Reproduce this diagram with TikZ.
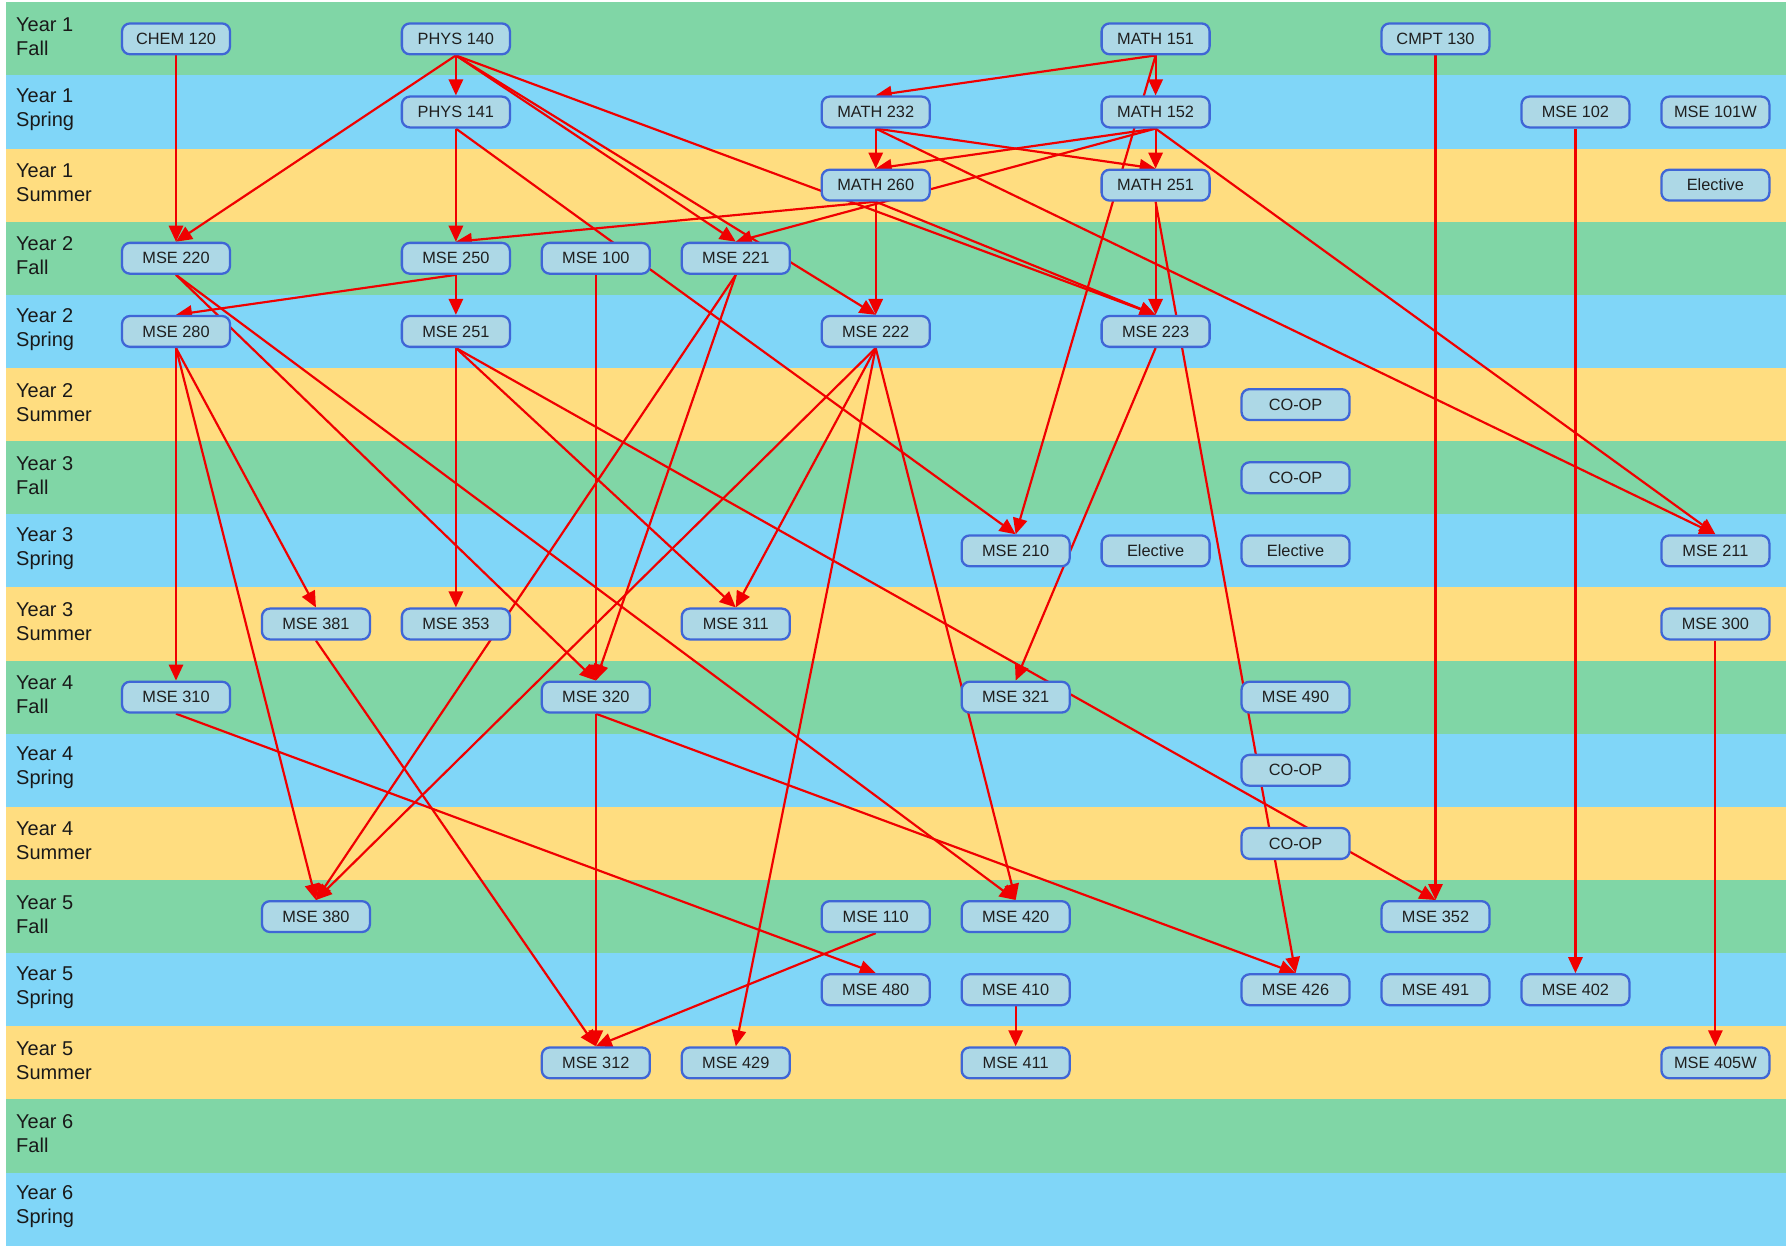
\documentclass[tikz,border=0pt]{standalone}
\usepackage{fontspec}
\setmainfont{Liberation Sans}
\usetikzlibrary{arrows.meta}
\pgfdeclarelayer{bands}
\pgfdeclarelayer{edges}
\pgfsetlayers{bands,edges,main}
\definecolor{bgreen}{RGB}{128,214,166}
\definecolor{bblue}{RGB}{128,214,248}
\definecolor{byellow}{RGB}{255,221,128}
\definecolor{nfill}{RGB}{173,216,230}
\definecolor{nborder}{RGB}{63,102,214}
\definecolor{ered}{RGB}{240,0,0}
\begin{document}
\begin{tikzpicture}[x=1pt,y=-1pt,
  course/.style={draw=nborder, fill=nfill, line width=2pt, rounded corners=7pt,
    minimum width=94.5pt, minimum height=27pt, inner sep=0pt,
    font=\fontsize{14.3}{16}\selectfont, text=black!88},
  yearlabel/.style={anchor=west, align=left, inner sep=0pt,
    font=\fontsize{17.5}{21}\selectfont, text=black!90},
  pre/.style={draw=ered, line width=1.9pt, -{Triangle[length=14pt,width=12.5pt]}}
]
\useasboundingbox (0,0) rectangle (1568,1097);

% bands
\begin{pgfonlayer}{bands}
\fill[white] (0,0) rectangle (1568,1097);
\foreach \i in {0,...,16}{
  \pgfmathtruncatemacro{\m}{mod(\i,3)}
  \ifcase\m\relax
    \fill[bgreen] (5,{2+64*\i}) rectangle (1563,{66+64*\i});
  \or
    \fill[bblue] (5,{2+64*\i}) rectangle (1563,{66+64*\i});
  \or
    \fill[byellow] (5,{2+64*\i}) rectangle (1563,{66+64*\i});
  \fi
}
\end{pgfonlayer}
% labels
\foreach \yr/\sem [count=\i from 0] in {1/Fall,1/Spring,1/Summer,2/Fall,2/Spring,2/Summer,3/Fall,3/Spring,3/Summer,4/Fall,4/Spring,4/Summer,5/Fall,5/Spring,5/Summer,6/Fall,6/Spring}{
  \node[yearlabel] (lab\i) at (14,{32+64*\i}) {Year \yr\\\sem};
}

% course nodes
\foreach \nm/\c/\r/\txt in {
  chem120/1/0/CHEM 120, phys140/3/0/PHYS 140, math151/8/0/MATH 151, cmpt130/10/0/CMPT 130,
  phys141/3/1/PHYS 141, math232/6/1/MATH 232, math152/8/1/MATH 152, mse102/11/1/MSE 102, mse101w/12/1/MSE 101W,
  math260/6/2/MATH 260, math251/8/2/MATH 251, elec2/12/2/Elective,
  mse220/1/3/MSE 220, mse250/3/3/MSE 250, mse100/4/3/MSE 100, mse221/5/3/MSE 221,
  mse280/1/4/MSE 280, mse251/3/4/MSE 251, mse222/6/4/MSE 222, mse223/8/4/MSE 223,
  coop5/9/5/CO-OP,
  coop6/9/6/CO-OP,
  mse210/7/7/MSE 210, elec7a/8/7/Elective, elec7b/9/7/Elective, mse211/12/7/MSE 211,
  mse381/2/8/MSE 381, mse353/3/8/MSE 353, mse311/5/8/MSE 311, mse300/12/8/MSE 300,
  mse310/1/9/MSE 310, mse320/4/9/MSE 320, mse321/7/9/MSE 321, mse490/9/9/MSE 490,
  coop10/9/10/CO-OP,
  coop11/9/11/CO-OP,
  mse380/2/12/MSE 380, mse110/6/12/MSE 110, mse420/7/12/MSE 420, mse352/10/12/MSE 352,
  mse480/6/13/MSE 480, mse410/7/13/MSE 410, mse426/9/13/MSE 426, mse491/10/13/MSE 491, mse402/11/13/MSE 402,
  mse312/4/14/MSE 312, mse429/5/14/MSE 429, mse411/7/14/MSE 411, mse405w/12/14/MSE 405W}{
  \node[course] (\nm) at ({154+122.45*(\c-1)},{34+64*\r}) {\txt};
}

% prerequisite connectors
\begin{pgfonlayer}{edges}
\foreach \a/\b in {
  chem120/mse220, phys140/mse220, phys140/phys141, phys140/mse221, phys140/mse222, phys140/mse223,
  math151/math232, math151/math152, math151/mse210,
  phys141/mse250, phys141/mse210,
  math232/math260, math232/math251, math232/mse211,
  math152/math260, math152/math251, math152/mse221, math152/mse211,
  math260/mse250, math260/mse222, math260/mse223,
  math251/mse223, math251/mse426,
  cmpt130/mse352, mse102/mse402,
  mse220/mse320, mse220/mse420,
  mse250/mse280, mse250/mse251,
  mse100/mse320,
  mse221/mse320, mse221/mse380,
  mse222/mse380, mse222/mse311, mse222/mse429, mse222/mse420,
  mse223/mse321,
  mse280/mse310, mse280/mse381, mse280/mse380,
  mse251/mse353, mse251/mse311, mse251/mse352,
  mse381/mse312, mse310/mse480,
  mse320/mse312, mse320/mse426,
  mse300/mse405w, mse110/mse312, mse410/mse411}{
  \draw[pre] (\a.south) -- (\b.north);
}
\end{pgfonlayer}
\end{tikzpicture}
\end{document}
